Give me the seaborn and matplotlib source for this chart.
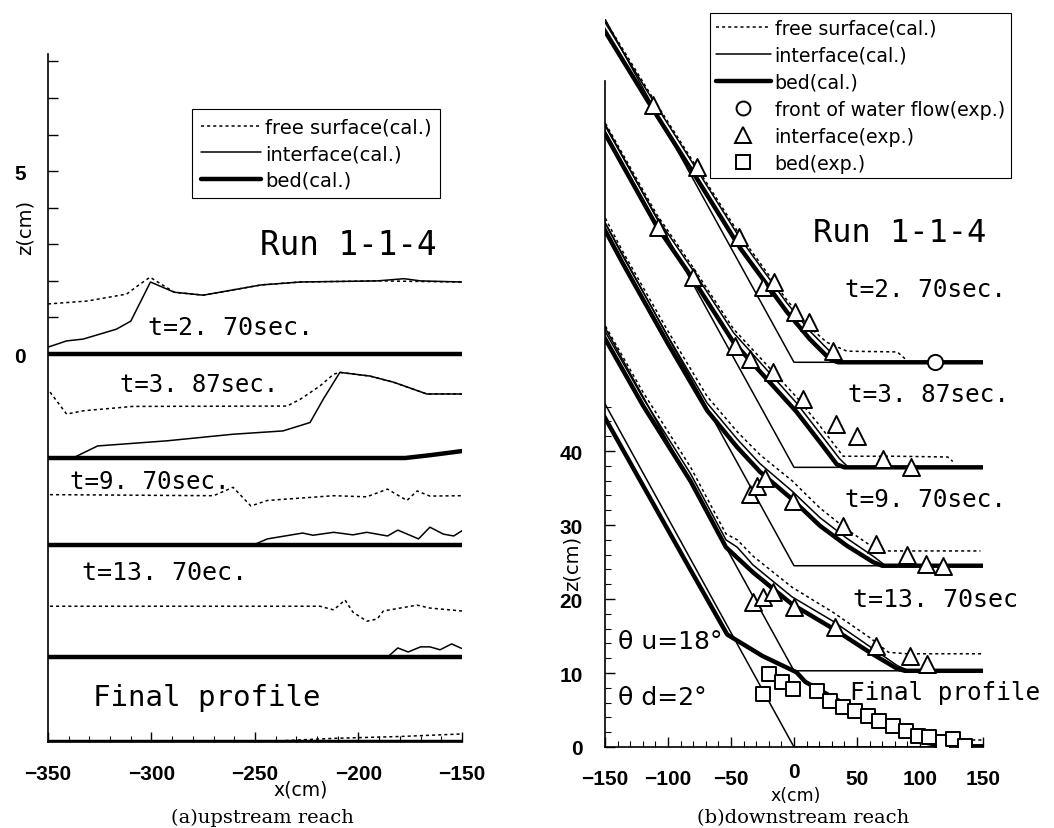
import numpy as np
import matplotlib
matplotlib.use("Agg")
import matplotlib.pyplot as plt
from matplotlib.lines import Line2D
from matplotlib.transforms import ScaledTranslation
import seaborn as sns

sns.set_style("ticks")
plt.rcParams['font.family'] = ['DejaVu Sans']
for k in ('text.color', 'axes.labelcolor', 'xtick.color', 'ytick.color', 'axes.edgecolor'):
    plt.rcParams[k] = 'black'

# ---------------- (a) upstream reach : profiles stacked with offsets ----------------
# t=2.70 sec (bed level 0)
a270_bed_x = [-350, -150]
a270_bed_z = [0.0, 0.0]
a270_int_x = [-350, -341, -333, -317, -310, -300.5, -289, -275, -247, -228, -191, -178, -170, -150]
a270_int_z = [0.19, 0.36, 0.41, 0.68, 0.9, 1.97, 1.69, 1.61, 1.89, 1.97, 2.0, 2.06, 2.0, 1.97]
a270_fs_x = [-350, -331, -312, -305.6, -300.7, -289, -275, -247, -228, -191, -150]
a270_fs_z = [1.37, 1.45, 1.64, 1.91, 2.1, 1.69, 1.61, 1.89, 1.97, 2.0, 1.97]

# t=3.87 sec (bed level -2.84)
a387_bed_x = [-350, -177.5, -165, -150]
a387_bed_z = [-2.84, -2.84, -2.76, -2.65]
a387_int_x = [-350, -338, -326, -292.5, -260.6, -236.5, -223.4, -217, -209, -194.5, -183, -167, -150]
a387_int_z = [-2.84, -2.84, -2.51, -2.37, -2.19, -2.1, -1.87, -1.23, -0.5, -0.6, -0.77, -1.09, -1.09]
a387_fs_x = [-349, -341, -333, -309, -234.5, -228, -218.6, -212, -209, -194.5, -183, -167, -150]
a387_fs_z = [-1.04, -1.64, -1.55, -1.43, -1.42, -1.23, -0.87, -0.55, -0.5, -0.6, -0.77, -1.09, -1.09]

# t=9.70 sec (bed level -5.22)
a970_bed_x = [-350, -150]
a970_bed_z = [-5.22, -5.22]
a970_int_x = [-350, -251, -244, -227, -222, -212, -202.7, -196, -186, -181, -171, -165.5, -159, -154, -149.5]
a970_int_z = [-5.22, -5.22, -5.05, -4.89, -4.95, -4.87, -4.94, -4.87, -4.97, -4.81, -5.05, -4.73, -4.92, -4.97, -4.81]
a970_fs_x = [-352, -270, -260.6, -252, -244, -212, -196, -186, -176.6, -171.7, -165.5, -150]
a970_fs_z = [-3.84, -3.87, -3.64, -4.15, -4.0, -3.87, -3.9, -3.69, -4.0, -3.74, -3.88, -3.87]

# t=13.70 sec (bed level -8.28)
a1370_bed_x = [-350, -150]
a1370_bed_z = [-8.28, -8.28]
a1370_int_x = [-350, -186, -181, -176, -170, -165.5, -160.6, -155, -149.5]
a1370_int_z = [-8.28, -8.28, -8.03, -8.14, -8.0, -8.0, -8.08, -7.92, -8.06]
a1370_fs_x = [-352, -218.6, -212, -206.5, -202.7, -196, -191, -188, -171.7, -165.5, -150]
a1370_fs_z = [-6.89, -6.89, -6.99, -6.72, -7.05, -7.3, -7.24, -7.02, -6.86, -6.94, -7.02]

# final profile (bed level -10.6)
afin_bed_x = [-350, -150]
afin_bed_z = [-10.6, -10.6]
afin_fs_x = [-250, -212, -180, -150]
afin_fs_z = [-10.6, -10.5, -10.45, -10.38]

# ---------------- (b) downstream reach ----------------
b_init_x = [-152, 0, 150]
b270_init_z = [99.0, 52.0, 52.0]
b387_init_z = [84.8, 37.8, 37.8]
b970_init_z = [71.5, 24.5, 24.5]
b1370_init_z = [57.3, 10.3, 10.3]
bfin_init_z = [47.0, 0.0, 0.0]

# t=2.70 sec
b270_bed_x = [-152, -112, -77, -43, -5.6, 12.7, 28.6, 35, 150]
b270_bed_z = [97.3, 86.2, 76.8, 67.5, 58.8, 55.1, 52.4, 52.0, 52.0]
b270_int_x = [-152, -112, -77, -43, -5.6, 12.7, 30, 36]
b270_int_z = [98.5, 87.4, 78.0, 68.8, 60.0, 56.2, 53.2, 52.2]
b270_fs_x = [-152, -112, -77, -43, -5.6, 12.7, 26, 42, 82, 90]
b270_fs_z = [98.8, 87.7, 78.3, 69.2, 60.4, 56.7, 54.7, 53.5, 53.4, 52.2]
b270_tri_x = [-112, -77, -44, -25, -16, 1, 12, 31]
b270_tri_z = [86.8, 78.4, 68.9, 62.2, 62.8, 58.8, 57.4, 53.5]
b270_front_x = [112]
b270_front_z = [52.0]

# t=3.87 sec
b387_bed_x = [-152, -109, -80, -48, 2, 20.6, 34, 40, 150]
b387_bed_z = [83.5, 70.4, 63.2, 54.7, 45.3, 41.2, 38.2, 37.8, 37.8]
b387_int_x = [-152, -109, -80, -48, 2, 20.6, 36, 42]
b387_int_z = [84.6, 71.6, 64.4, 56.0, 46.5, 42.4, 39.0, 38.0]
b387_fs_x = [-152, -109, -80, -48, 2, 20.6, 39, 80, 122, 126]
b387_fs_z = [85.0, 72.0, 64.8, 56.5, 47.3, 43.4, 39.3, 39.3, 39.2, 38.6]
b387_tri_x = [-108, -80, -47, -35, -17, 7, 33, 50, 71, 93]
b387_tri_z = [70.3, 63.5, 54.2, 52.4, 50.7, 47.1, 43.6, 42.0, 38.9, 37.8]

# t=9.70 sec
b970_bed_x = [-152, -136, -100, -69, -45, -27, -1.6, 20.6, 42, 62.7, 70, 150]
b970_bed_z = [70.5, 65.4, 54.5, 45.5, 40.5, 37.2, 33.5, 29.9, 27.2, 25.0, 24.5, 24.5]
b970_int_x = [-152, -136, -100, -69, -45, -27, -1.6, 20.6, 42, 62.7, 72]
b970_int_z = [71.5, 66.4, 55.5, 46.5, 41.6, 38.3, 34.6, 31.0, 28.2, 25.8, 24.6]
b970_fs_x = [-152, -136, -100, -69, -45, -27, -1.6, 20.6, 42, 62.7, 68, 148]
b970_fs_z = [72.2, 67.0, 56.2, 47.4, 42.6, 39.5, 36.0, 32.3, 29.4, 27.0, 26.5, 26.5]
b970_tri_x = [-35, -29, -23, -1, 39, 65, 90, 105, 118]
b970_tri_z = [34.2, 35.3, 36.3, 33.3, 29.9, 27.4, 25.9, 24.7, 24.5]

# t=13.70 sec
b1370_bed_x = [-152, -120, -82, -54, -32.5, -1.6, 31, 60, 81.7, 88, 150]
b1370_bed_z = [55.8, 46.2, 35.9, 27.0, 23.6, 19.3, 16.0, 12.8, 10.6, 10.3, 10.3]
b1370_int_x = [-152, -120, -82, -54, -45, -32.5, -1.6, 31, 60, 82, 90]
b1370_int_z = [56.8, 47.2, 36.9, 28.0, 27.0, 24.6, 20.3, 17.0, 13.6, 11.0, 10.4]
b1370_fs_x = [-152, -120, -82, -54, -45, -32.5, -1.6, 31, 60, 75, 90, 150]
b1370_fs_z = [57.6, 48.0, 37.8, 28.8, 28.0, 25.8, 21.6, 18.2, 14.8, 12.8, 12.6, 12.6]
b1370_tri_x = [-32.5, -24.6, -17, 0, 32.5, 65, 92, 105.6]
b1370_tri_z = [19.6, 20.3, 20.9, 18.9, 16.2, 13.7, 12.3, 11.2]

# final profile
bfin_bed_x = [-154, -125, -83, -53, -25, 2, 9, 36, 62, 88, 104, 120, 150]
bfin_bed_z = [45.7, 36.9, 24.2, 15.2, 12.3, 10.1, 8.8, 6.2, 4.2, 2.0, 0.6, 0.1, 0.1]
bfin_fs_x = [132, 150]
bfin_fs_z = [0.9, 0.9]
bfin_sq_x = [-24.6, -19.8, -9.5, -0.8, 18, 28.6, 39, 48.4, 58.7, 67.5, 78.6, 88.9, 98.4, 107, 118, 126, 135.7]
bfin_sq_z = [7.2, 9.9, 8.8, 7.8, 7.6, 6.2, 5.4, 4.9, 4.2, 3.5, 2.8, 2.2, 1.5, 1.3, 0.7, 1.1, 0.2]

FS = (0, (2, 2))
LW_BED, LW_INT, LW_FS = 3.2, 1.1, 1.1
MONO = 'DejaVu Sans Mono'


def line(ax, x, y, lw, ls='-'):
    sns.lineplot(x=x, y=y, ax=ax, color='black', lw=lw, linestyle=ls,
                 estimator=None, sort=False, legend=False)


def marks(ax, x, y, marker, s):
    sns.scatterplot(x=x, y=y, ax=ax, marker=marker, s=s, facecolor='white',
                    edgecolor='black', linewidth=1.4, legend=False, zorder=5)


fig = plt.figure(figsize=(10.54, 8.29), dpi=100)

# ---------- panel (a) ----------
axa = fig.add_axes([48 / 1054, 1 - 743 / 829, 414 / 1054, 688 / 829])
for bx, bz in [(a270_bed_x, a270_bed_z), (a387_bed_x, a387_bed_z), (a970_bed_x, a970_bed_z),
               (a1370_bed_x, a1370_bed_z), (afin_bed_x, afin_bed_z)]:
    line(axa, bx, bz, LW_BED)
for ix, iz in [(a270_int_x, a270_int_z), (a387_int_x, a387_int_z), (a970_int_x, a970_int_z),
               (a1370_int_x, a1370_int_z)]:
    line(axa, ix, iz, LW_INT)
for fx, fz in [(a270_fs_x, a270_fs_z), (a387_fs_x, a387_fs_z), (a970_fs_x, a970_fs_z),
               (a1370_fs_x, a1370_fs_z), (afin_fs_x, afin_fs_z)]:
    line(axa, fx, fz, LW_FS, FS)

axa.set_xlim(-350, -150)
axa.set_ylim(-10.6, 8.2)
axa.set_xticks([-350, -300, -250, -200, -150])
axa.set_xticks(np.arange(-350, -149, 10), minor=True)
axa.set_yticks(np.arange(0, 9, 1))
axa.set_yticklabels(['0', '', '', '', '', '5', '', '', ''])
axa.set_xlabel('')
axa.set_ylabel('')

axa.text(-247.6, 3.0, 'Run 1-1-4', family=MONO, fontsize=23.5, va='center')
axa.text(-301.7, 0.74, 't=2. 70sec.', family=MONO, fontsize=18, va='center')
axa.text(-315.2, -0.82, 't=3. 87sec.', family=MONO, fontsize=17.2, va='center')
axa.text(-339.4, -3.47, 't=9. 70sec.', family=MONO, fontsize=17.4, va='center')
axa.text(-333.6, -5.96, 't=13. 70ec.', family=MONO, fontsize=18, va='center')
axa.text(-328.3, -9.37, 'Final profile', family=MONO, fontsize=21, va='center')

# ---------- panel (b) ----------
axb = fig.add_axes([605 / 1054, 1 - 748 / 829, 378 / 1054, 728 / 829])
for iz in [b270_init_z, b387_init_z, b970_init_z, b1370_init_z, bfin_init_z]:
    line(axb, b_init_x, iz, LW_INT)
for bx, bz in [(b270_bed_x, b270_bed_z), (b387_bed_x, b387_bed_z), (b970_bed_x, b970_bed_z),
               (b1370_bed_x, b1370_bed_z), (bfin_bed_x, bfin_bed_z)]:
    line(axb, bx, bz, LW_BED)
for ix, iz in [(b270_int_x, b270_int_z), (b387_int_x, b387_int_z), (b970_int_x, b970_int_z),
               (b1370_int_x, b1370_int_z)]:
    line(axb, ix, iz, LW_INT)
for fx, fz in [(b270_fs_x, b270_fs_z), (b387_fs_x, b387_fs_z), (b970_fs_x, b970_fs_z),
               (b1370_fs_x, b1370_fs_z), (bfin_fs_x, bfin_fs_z)]:
    line(axb, fx, fz, LW_FS, FS)
for tx, tz in [(b270_tri_x, b270_tri_z), (b387_tri_x, b387_tri_z), (b970_tri_x, b970_tri_z),
               (b1370_tri_x, b1370_tri_z)]:
    marks(axb, tx, tz, '^', 150)
marks(axb, b270_front_x, b270_front_z, 'o', 120)
marks(axb, bfin_sq_x, bfin_sq_z, 's', 110)

axb.set_xlim(-150, 150)
axb.set_ylim(0, 98.4)
axb.set_xticks([-150, -100, -50, 0, 50, 100, 150])
axb.set_xticks(np.arange(-150, 151, 10), minor=True)
axb.set_yticks([0, 10, 20, 30, 40])
axb.set_yticks(np.arange(0, 47, 2), minor=True)
axb.spines['left'].set_bounds(0, 90)
axb.set_xlabel('')
axb.set_ylabel('')

axb.text(15, 69.6, 'Run 1-1-4', family=MONO, fontsize=23, va='center')
axb.text(40.5, 61.9, 't=2. 70sec.', family=MONO, fontsize=17.6, va='center')
axb.text(42.9, 47.7, 't=3. 87sec.', family=MONO, fontsize=17.6, va='center')
axb.text(40.5, 33.5, 't=9. 70sec.', family=MONO, fontsize=17.6, va='center')
axb.text(46.8, 20.0, 't=13. 70sec', family=MONO, fontsize=18, va='center')
axb.text(44.4, 7.4, 'Final profile', family=MONO, fontsize=17.5, va='center')
axb.text(-139.7, 14.3, 'θ u=18°', fontsize=18, va='center')
axb.text(-139.7, 6.8, 'θ d=2°', fontsize=18, va='center')

for ax in (axa, axb):
    sns.despine(ax=ax)
    ax.tick_params(axis='both', which='major', direction='in', length=7, width=1,
                   labelsize=15, pad=16)
    ax.tick_params(axis='both', which='minor', direction='in', length=4, width=0.8)
    for sp in ('left', 'bottom'):
        ax.spines[sp].set_linewidth(1.2)
    for lab in ax.get_xticklabels() + ax.get_yticklabels():
        lab.set_family('Liberation Sans')
        lab.set_fontweight('bold')

# the "0" label of panel (b) sits a little higher, with x(cm) under it
zero_lab = axb.get_xticklabels()[3]
zero_lab.set_transform(zero_lab.get_transform() + ScaledTranslation(0, 5 / 72, fig.dpi_scale_trans))

# axis labels and captions
fig.text(25 / 1054, 1 - 227 / 829, 'z(cm)', rotation=90, fontsize=14, ha='center', va='center')
fig.text(572 / 1054, 1 - 563 / 829, 'z(cm)', rotation=90, fontsize=14, ha='center', va='center')
fig.text(301 / 1054, 1 - 790 / 829, 'x(cm)', fontsize=13.5, ha='center', va='center')
fig.text(796 / 1054, 1 - 796 / 829, 'x(cm)', fontsize=12.5, ha='center', va='center')
fig.text(262 / 1054, 1 - 818 / 829, '(a)upstream reach', family='DejaVu Serif', fontsize=14,
         ha='center', va='center')
fig.text(803 / 1054, 1 - 818 / 829, '(b)downstream reach', family='DejaVu Serif', fontsize=14,
         ha='center', va='center')

# legends
h_fs = Line2D([], [], color='black', lw=LW_FS, linestyle=FS)
h_int = Line2D([], [], color='black', lw=LW_INT)
h_bed = Line2D([], [], color='black', lw=LW_BED)
h_o = Line2D([], [], color='black', marker='o', ls='none', mfc='white', mew=1.4, ms=10)
h_t = Line2D([], [], color='black', marker='^', ls='none', mfc='white', mew=1.4, ms=11)
h_s = Line2D([], [], color='black', marker='s', ls='none', mfc='white', mew=1.4, ms=10)

la = fig.legend([h_fs, h_int, h_bed], ['free surface(cal.)', 'interface(cal.)', 'bed(cal.)'],
                loc='upper left', bbox_to_anchor=(192 / 1054, 1 - 110 / 829), borderaxespad=0,
                fancybox=False, framealpha=1, edgecolor='black', fontsize=14,
                handlelength=3.1, handletextpad=0.2, labelspacing=0.38, borderpad=0.45)
la.get_frame().set_linewidth(0.8)
lb = fig.legend([h_fs, h_int, h_bed, h_o, h_t, h_s],
                ['free surface(cal.)', 'interface(cal.)', 'bed(cal.)',
                 'front of water flow(exp.)', 'interface(exp.)', 'bed(exp.)'],
                loc='upper left', bbox_to_anchor=(710 / 1054, 1 - 14 / 829), borderaxespad=0,
                fancybox=False, framealpha=1, edgecolor='black', fontsize=13.7,
                handlelength=2.9, handletextpad=0.2, labelspacing=0.42, borderpad=0.3)
lb.get_frame().set_linewidth(0.8)

fig.savefig('out.png', dpi=100)
